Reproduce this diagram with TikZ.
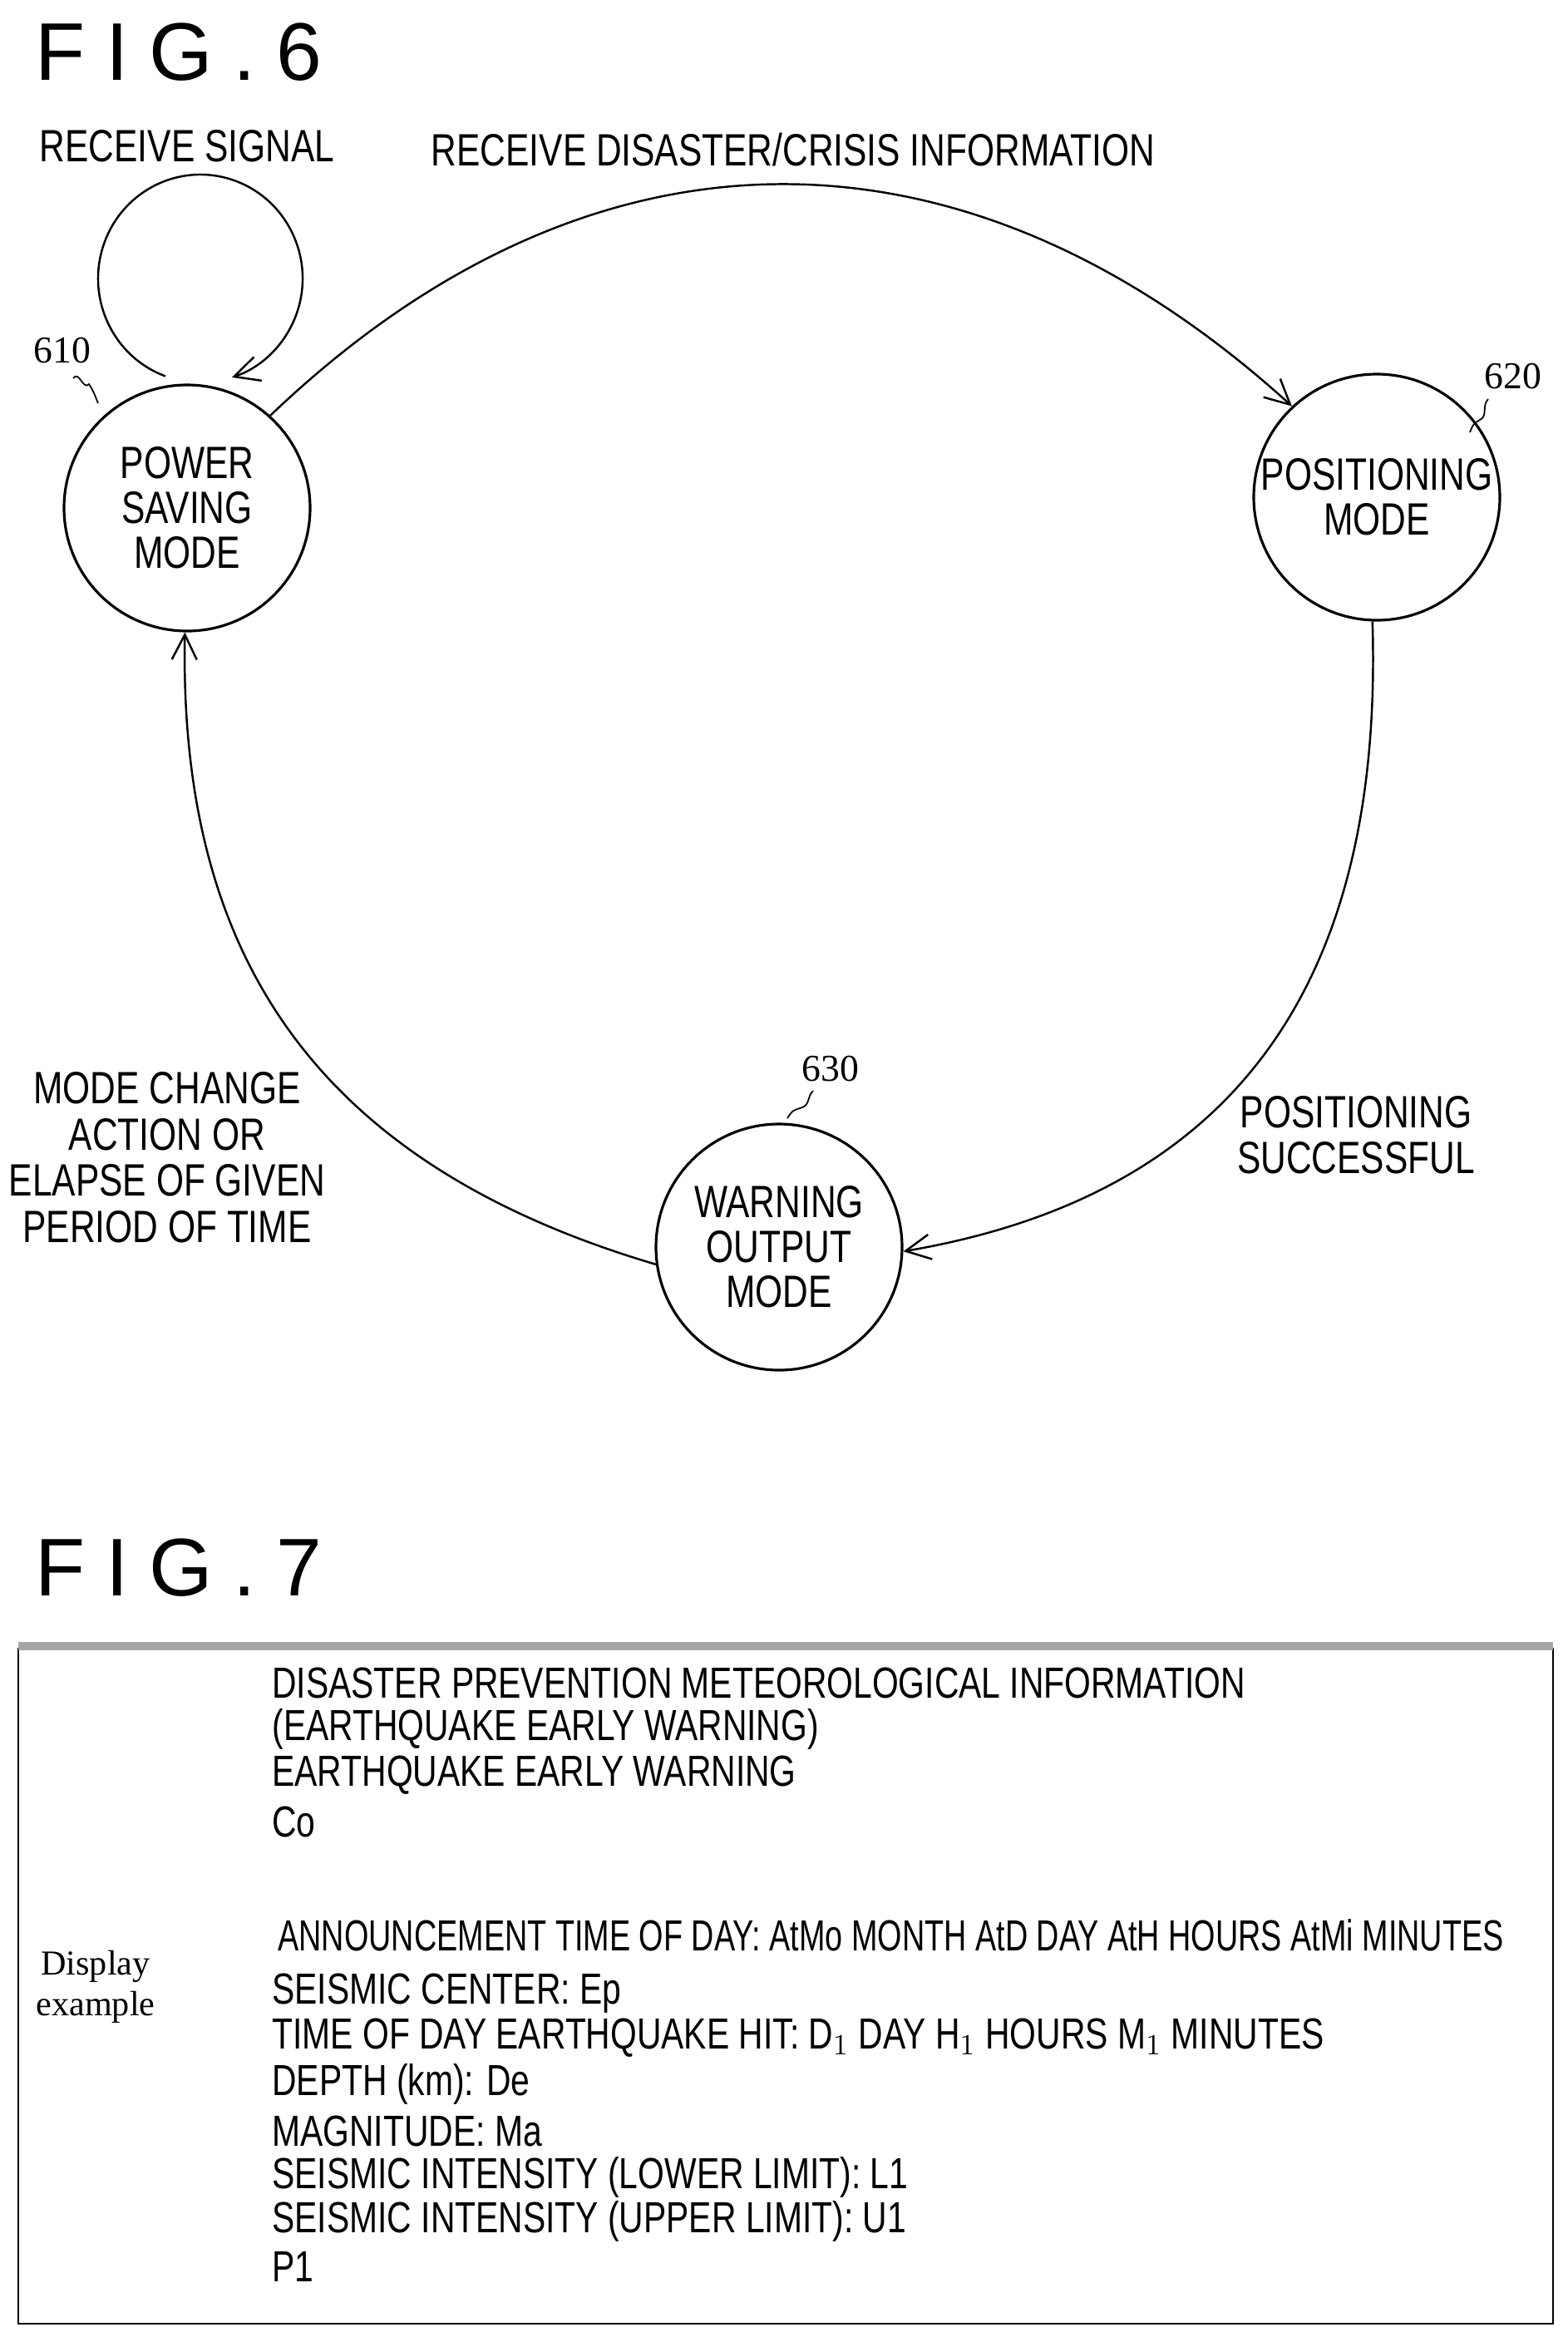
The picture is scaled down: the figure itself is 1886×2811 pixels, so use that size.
\documentclass[tikz,border=0pt]{standalone}
\usepackage{fontspec}
\usepackage{graphicx}
\setmainfont{Liberation Sans}[FakeStretch=0.78]
\newfontfamily\serifx{Liberation Serif}
\newfontfamily\figfont{Liberation Sans}[LetterSpace=25]
\usetikzlibrary{arrows.meta}
\begin{document}
\begin{tikzpicture}[x=0.1mm,y=-0.1mm,
  st/.style={circle,draw,line width=0.9pt,minimum size=29.6mm,inner sep=0pt,align=center,font=\fontsize{15.5}{15.4}\selectfont},
  lbl/.style={align=center,font=\fontsize{15.5}{15.8}\selectfont},
  num/.style={font=\serifx\fontsize{13}{13}\selectfont},
  edge/.style={line width=0.7pt,-{Straight Barb[length=3mm,width=3mm]}},
  sq/.style={line width=0.5pt},
  fig/.style={anchor=west,font=\figfont\fontsize{28}{28}\selectfont},
  tl/.style={anchor=west,font=\fontsize{14.9}{15}\selectfont}]
\useasboundingbox (0,0) rectangle (1886,2811);
\node[fig] (f6) at (30,63) {FIG.6};
\node[st] (p) at (225,611) {POWER\\SAVING\\MODE};
\node[st] (q) at (1656,598) {POSITIONING\\MODE};
\node[st] (w) at (937,1500) {WARNING\\OUTPUT\\MODE};
\coordinate (lc) at (241,335);
\draw[edge] ([shift={(110:123 and 125)}]lc) arc[start angle=110,end angle=432,x radius=123,y radius=125];
\draw[edge] (p.48) .. controls (711,131) and (1160,131) .. (q.133);
\draw[edge] (q.-92) .. controls (1665,1200) and (1470,1440) .. (w.-2);
\draw[edge] (w.188) .. controls (380,1400) and (215,1150) .. (p.-91);
\node[lbl] (l1) at (225,176) {RECEIVE SIGNAL};
\node[lbl] (l2) at (954,180) {RECEIVE DISASTER/CRISIS INFORMATION};
\node[lbl] (l3) at (1631,1365) {POSITIONING\\SUCCESSFUL};
\node[lbl] (l4) at (201,1392) {MODE CHANGE\\ACTION OR\\ELAPSE OF GIVEN\\PERIOD OF TIME};
\node[num] (n1) at (75,422) {610};
\node[num] (n2) at (1820,453) {620};
\node[num] (n3) at (999,1286) {630};
\draw[sq] (88,455) .. controls (95,445) and (100,470) .. (107,462) .. controls (112,470) .. (118,485);
\draw[sq] (1790,480) .. controls (1782,488) and (1790,500) .. (1780,505) .. controls (1772,510) .. (1768,520);
\draw[sq] (978,1312) .. controls (970,1320) and (975,1330) .. (962,1333) .. controls (953,1336) .. (947,1345);
\node[fig] (f7) at (30,1886) {FIG.7};
\draw[line width=0.8pt] (22,1982) -- (22,2795) -- (1868,2795) -- (1868,1982);
\draw[line width=3pt,gray!70] (22,1980) -- (1868,1980);
\node[font=\serifx\fontsize{12}{14}\selectfont,align=center] (de) at (115,2390) {Display\\example};
\node[tl] (t1) at (315,2024) {DISASTER PREVENTION METEOROLOGICAL INFORMATION};
\node[tl] (t2) at (315,2080) {(EARTHQUAKE EARLY WARNING)};
\node[tl] (t3) at (315,2135) {EARTHQUAKE EARLY WARNING};
\node[tl] (t4) at (315,2191) {Co};
\node[tl] (t5) at (322,2328) {\scalebox{0.925}[1]{ANNOUNCEMENT TIME OF DAY: AtMo MONTH AtD DAY AtH HOURS AtMi MINUTES}};
\node[tl] (t6) at (315,2398) {SEISMIC CENTER: Ep};
\node[tl] (t7) at (315,2451) {TIME OF DAY EARTHQUAKE HIT: D$_1$ DAY H$_1$ HOURS M$_1$ MINUTES};
\node[tl] (t8) at (315,2507) {DEPTH (km): De};
\node[tl] (t9) at (315,2563) {MAGNITUDE: Ma};
\node[tl] (t10) at (315,2619) {SEISMIC INTENSITY (LOWER LIMIT): L1};
\node[tl] (t11) at (315,2672) {SEISMIC INTENSITY (UPPER LIMIT): U1};
\node[tl] (t12) at (315,2726) {P1};
\end{tikzpicture}
\end{document}
